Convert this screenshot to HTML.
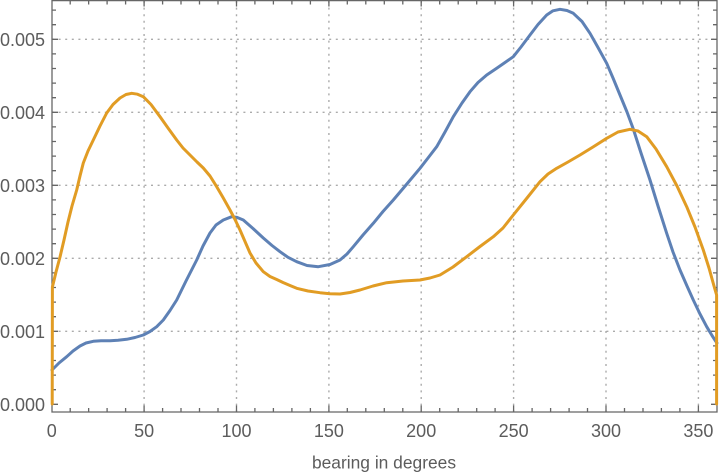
<!DOCTYPE html>
<html>
<head>
<meta charset="utf-8">
<style>
html,body{margin:0;padding:0;background:#fff;}
svg{display:block;}
text{font-family:"Liberation Sans",sans-serif;fill:#5c5c5c;}
</style>
</head>
<body>
<svg width="720" height="476" viewBox="0 0 720 476" xmlns="http://www.w3.org/2000/svg">
<rect width="720" height="476" fill="#fff"/>
<!-- grid -->
<g stroke="#ababab" stroke-width="1.4" stroke-dasharray="2 4.6" fill="none">
<path d="M144.1 1V412M236.5 1V412M328.9 1V412M421.2 1V412M513.6 1V412M606 1V412M698.4 1V412"/>
<path d="M52 331.3H717M52 258.3H717M52 185.3H717M52 112.3H717M52 39.3H717"/>
</g>
<!-- frame -->
<g stroke="#666" stroke-width="1.3" fill="none">
<path d="M52 0.6H717V412H52Z"/>
<!-- bottom ticks -->
<path d="M70.2 412V408M88.65 412V408M107.1 412V408M125.6 412V408M162.6 412V408M181 412V408M199.5 412V408M218 412V408M254.9 412V408M273.4 412V408M291.9 412V408M310.4 412V408M347.3 412V408M365.8 412V408M384.3 412V408M402.8 412V408M439.7 412V408M458.2 412V408M476.7 412V408M495.1 412V408M532.1 412V408M550.6 412V408M569.1 412V408M587.5 412V408M624.5 412V408M643 412V408M661.4 412V408M679.9 412V408"/>
<path d="M144.1 412V405.5M236.5 412V405.5M328.9 412V405.5M421.2 412V405.5M513.6 412V405.5M606 412V405.5M698.4 412V405.5"/>
<!-- top ticks -->
<path d="M70.2 0V4.5M88.65 0V4.5M107.1 0V4.5M125.6 0V4.5M162.6 0V4.5M181 0V4.5M199.5 0V4.5M218 0V4.5M254.9 0V4.5M273.4 0V4.5M291.9 0V4.5M310.4 0V4.5M347.3 0V4.5M365.8 0V4.5M384.3 0V4.5M402.8 0V4.5M439.7 0V4.5M458.2 0V4.5M476.7 0V4.5M495.1 0V4.5M532.1 0V4.5M550.6 0V4.5M569.1 0V4.5M587.5 0V4.5M624.5 0V4.5M643 0V4.5M661.4 0V4.5M679.9 0V4.5"/>
<path d="M144.1 0V6.5M236.5 0V6.5M328.9 0V6.5M421.2 0V6.5M513.6 0V6.5M606 0V6.5M698.4 0V6.5"/>
<!-- left ticks -->
<path d="M52 389.7H56M52 375.1H56M52 360.5H56M52 345.9H56M52 316.7H56M52 302.1H56M52 287.5H56M52 272.9H56M52 243.7H56M52 229.1H56M52 214.5H56M52 199.9H56M52 170.7H56M52 156.1H56M52 141.5H56M52 126.9H56M52 97.7H56M52 83.1H56M52 68.5H56M52 53.9H56M52 24.7H56M52 10.1H56"/>
<path d="M52 404.3H58M52 331.3H58M52 258.3H58M52 185.3H58M52 112.3H58M52 39.3H58"/>
<!-- right ticks -->
<path d="M717 389.7H713M717 375.1H713M717 360.5H713M717 345.9H713M717 316.7H713M717 302.1H713M717 287.5H713M717 272.9H713M717 243.7H713M717 229.1H713M717 214.5H713M717 199.9H713M717 170.7H713M717 156.1H713M717 141.5H713M717 126.9H713M717 97.7H713M717 83.1H713M717 68.5H713M717 53.9H713M717 24.7H713M717 10.1H713"/>
<path d="M717 404.3H711M717 331.3H711M717 258.3H711M717 185.3H711M717 112.3H711M717 39.3H711"/>
</g>
<!-- blue series -->
<polyline fill="none" stroke="#5E81B5" stroke-width="3" stroke-linejoin="round" stroke-linecap="round"
points="52,370 59,363 66.7,356.7 73,351 80,346 86,343 93.3,341.3 101,340.8 110,340.7 118,340.3 126.7,339.3 135,337.5 143.3,335 150,331.5 156.7,326.7 163.3,320 170,310.5 176.7,300 186,281 196.7,260 203,246 210,233 216,225 223.3,220 231.7,216.7 237,217.4 243.3,220 253,228.5 263.3,238 272,245.5 280,251.7 288,257.3 296.7,261.7 307,265.5 318.3,266.7 330,264.5 340,260 347,254 353.3,246.7 363,235 373.3,223.3 383,211.5 393.3,200 406,185 420,168.3 428,158 436.7,146.7 445,132 453.3,116.7 462,103 470,91.7 478,82.5 486.7,75 496.7,68.3 505,62.5 513.3,56.7 521,47 530,35 538,24.5 546.7,15 553,10.8 560,9.3 567,10.5 573.3,13.3 582,21.5 590,33.3 598,47.5 606.7,63.3 613,78 620,95 627,112 633.3,129 641,153 650,180 658,206 666.7,233.3 673,252 680,270 687,286 693.3,300 700,314 706.7,326.7 712,335.5 716.9,343"/>
<!-- orange series -->
<polyline fill="none" stroke="#E19C24" stroke-width="3" stroke-linejoin="round" stroke-linecap="round"
points="52.2,404 52.4,287 56,272 60,257 64,240 68,222 72,206 76.7,190 80,176 83.3,163 88,151 93.3,140 100,126 106.7,113 113,104.5 120,98 126,94.5 131.7,93.3 137.5,94.2 143.3,96.7 151,104.5 160,116.7 168,128 176.7,140 183,148 190,155 197,162 203.3,168 210,176 216.7,186.7 223,197.5 230,210 235,219.5 240,230 245,241.5 250,253 256,263 263.3,271.7 270,276.5 276.7,279.5 283,282.5 290,285.5 296.7,288.3 308,291 320,292.7 330,293.8 340,294 350,292.5 360,290 373,286 386.7,282.7 403,281 420,280 430,278 440,275 453,267 466.7,256.7 480,246.5 493.3,236.7 503,228 513.3,215 527,198 540,181.7 548,174 556.7,168.3 568,162 580,155 593,147 606.7,138.3 618,132 630,129.3 638,131 646.7,136.7 656,149 666.7,166.7 677,186 686.7,206.7 695,227 703.3,250 709,268 714,286 716.6,295 716.6,404"/>
<!-- y labels -->
<g font-size="18" text-anchor="end">
<text x="45" y="410.8">0.000</text>
<text x="45" y="337.8">0.001</text>
<text x="45" y="264.8">0.002</text>
<text x="45" y="191.8">0.003</text>
<text x="45" y="118.8">0.004</text>
<text x="45" y="45.8">0.005</text>
</g>
<!-- x labels -->
<g font-size="18" text-anchor="middle">
<text x="51.7" y="437">0</text>
<text x="144.1" y="437">50</text>
<text x="236.5" y="437">100</text>
<text x="328.9" y="437">150</text>
<text x="421.2" y="437">200</text>
<text x="513.6" y="437">250</text>
<text x="606" y="437">300</text>
<text x="698.4" y="437">350</text>
</g>
<text x="384" y="468.5" font-size="17.4" text-anchor="middle">bearing in degrees</text>
</svg>
</body>
</html>
